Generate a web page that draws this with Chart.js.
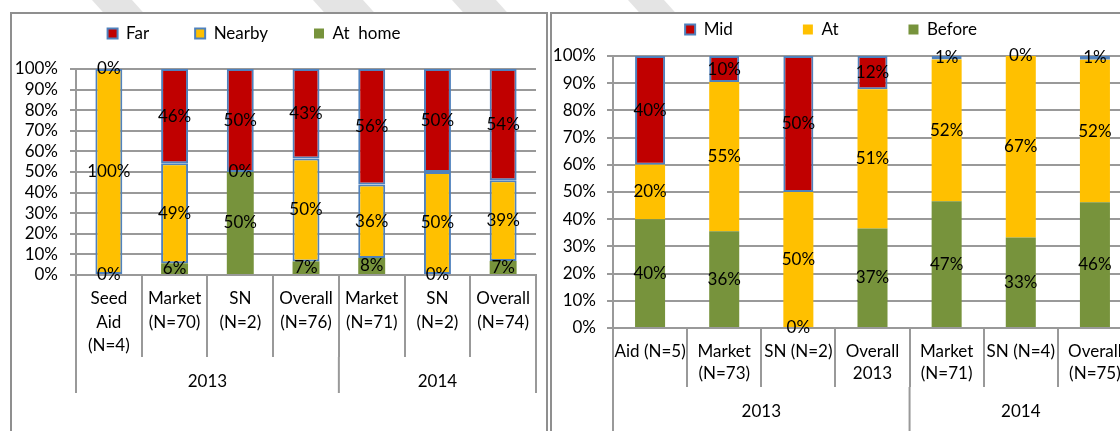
<!DOCTYPE html>
<html>
<head>
<meta charset="utf-8">
<script src="https://cdn.jsdelivr.net/npm/chart.js@4.4.1/dist/chart.umd.min.js"></script>
<style>
  html, body { margin: 0; padding: 0; }
  body { width: 1120px; height: 431px; overflow: hidden; position: relative; background: #fff; }
  canvas { position: absolute; }
  .frame { position: absolute; border: 2px solid #8f8f8f; border-bottom: none; box-sizing: border-box; }
  .stripe { position: absolute; top: 0; height: 12px; background: #e4e4e4; transform: skewX(42deg); transform-origin: top left; }
</style>
</head>
<body>
<div class="stripe" style="left:92px;width:40px"></div>
<div class="stripe" style="left:313px;width:50px"></div>
<div class="stripe" style="left:452px;width:44px"></div>
<div class="stripe" style="left:628px;width:36px"></div>
<div class="frame" style="left:10px;top:12px;width:538px;height:430px"></div>
<div class="frame" style="left:550px;top:12px;width:600px;height:430px;border-right:none"></div>
<canvas id="leftChart" width="574" height="452" style="left:-28px;top:-21px"></canvas>
<canvas id="rightChart" width="602" height="480" style="left:530px;top:-49px"></canvas>
<script>
// Left chart data (bottom to top: At home, Nearby, Far)
const leftCategories = [
  ['Seed', 'Aid', '(N=4)'], ['Market', '(N=70)'], ['SN', '(N=2)'], ['Overall', '(N=76)'],
  ['Market', '(N=71)'], ['SN', '(N=2)'], ['Overall', '(N=74)']
];
const leftHome = [0, 5.7, 50, 6.6, 8.3, 0, 6.8];
const leftNearby = [100, 48.6, 0, 50, 35.6, 50, 39.2];
const leftFar = [0, 45.7, 50, 43.4, 56.1, 50, 54.0];

// Right chart data (bottom to top: Before, At, Mid)
const rightCategories = [
  'Aid (N=5)', ['Market', '(N=73)'], 'SN (N=2)', ['Overall', '2013'],
  ['Market', '(N=71)'], 'SN (N=4)', ['Overall', '(N=75)']
];
const rightBefore = [40, 35.6, 0, 36.6, 46.6, 33.3, 46.2];
const rightAt = [20, 54.8, 50, 51.2, 52.1, 66.7, 52.4];
const rightMid = [40, 9.6, 50, 12.2, 1.3, 0, 1.4];

const yearLabels = ['2013', '2014'];
const yearSizes = [4, 3];
const yTicks = [0, 10, 20, 30, 40, 50, 60, 70, 80, 90, 100];

const RED = '#C00000';
const YELLOW = '#FFC000';
const GREEN = '#77933C';
const BLUE = '#4F81BD';
const GRID = '#999999';
const FONT = 'Lato';
const FSIZE = 17;

Chart.defaults.font.family = FONT;
Chart.defaults.font.size = FSIZE;
Chart.defaults.color = '#000';

// percent labels in the middle of each bar piece
const barLabels = {
  id: 'barLabels',
  afterDatasetsDraw(chart) {
    const ctx = chart.ctx;
    ctx.save();
    ctx.font = FSIZE + 'px ' + FONT;
    ctx.fillStyle = '#000';
    ctx.textAlign = 'center';
    ctx.textBaseline = 'middle';
    chart.data.datasets.forEach((ds, i) => {
      chart.getDatasetMeta(i).data.forEach((bar, j) => {
        const p = bar.getProps(['x', 'y', 'base'], true);
        ctx.fillText(Math.round(ds.data[j]) + '%', p.x, (p.y + p.base) / 2);
      });
    });
    ctx.restore();
  }
};

// second row of the category axis: years
const yearAxis = {
  id: 'yearAxis',
  afterDraw(chart, args, opts) {
    const xs = chart.scales.x;
    const step = xs.getPixelForValue(1) - xs.getPixelForValue(0);
    const edge = i => xs.getPixelForValue(0) - step / 2 + i * step;
    const base = chart.chartArea.bottom;
    const ctx = chart.ctx;
    ctx.save();
    ctx.strokeStyle = GRID;
    ctx.lineWidth = 2;
    ctx.font = FSIZE + 'px ' + FONT;
    ctx.fillStyle = '#000';
    ctx.textAlign = 'center';
    ctx.textBaseline = 'middle';
    let start = 0;
    const drawEdge = i => {
      ctx.beginPath();
      ctx.moveTo(edge(i), base + opts.top);
      ctx.lineTo(edge(i), base + opts.bottom);
      ctx.stroke();
    };
    yearLabels.forEach((lab, k) => {
      drawEdge(start);
      const end = start + yearSizes[k];
      ctx.fillText(lab, (edge(start) + edge(end)) / 2, base + opts.labelY);
      start = end;
    });
    drawEdge(start);
    ctx.restore();
  }
};

function makeChart(id, cfg) {
  return new Chart(document.getElementById(id), {
    type: 'bar',
    data: {
      labels: cfg.labels,
      datasets: cfg.datasets
    },
    options: {
      responsive: false,
      animation: false,
      devicePixelRatio: 1,
      layout: { padding: { left: 0, right: cfg.padRight, top: 0, bottom: 0 } },
      datasets: { bar: { categoryPercentage: 1, barPercentage: cfg.barPct } },
      plugins: {
        legend: {
          position: 'top',
          reverse: true,
          labels: {
            boxWidth: 10,
            boxHeight: 10,
            padding: cfg.legendPad,
            color: '#000',
            font: { size: FSIZE }
          }
        },
        tooltip: { enabled: false },
        yearAxis: { top: cfg.yearTop, bottom: cfg.yearBottom, labelY: cfg.yearLabelY }
      },
      scales: {
        x: {
          stacked: true,
          grid: {
            offset: true,
            drawOnChartArea: false,
            drawTicks: true,
            tickLength: cfg.catTick,
            color: GRID,
            lineWidth: 2
          },
          border: { display: true, color: GRID, width: 2 },
          ticks: {
            autoSkip: false,
            maxRotation: 0,
            padding: cfg.catPad,
            color: '#000',
            font: { size: FSIZE, lineHeight: cfg.catLine }
          },
          afterFit(scale) { scale.height = cfg.xHeight; }
        },
        // empty band between the legend and the plot
        gap: {
          type: 'category',
          position: 'top',
          display: true,
          grid: { display: false },
          border: { display: false },
          ticks: { display: false },
          afterFit(scale) { scale.height = cfg.legendGap; }
        },
        y: {
          stacked: true,
          min: 0,
          max: 100,
          afterBuildTicks(scale) { scale.ticks = yTicks.map(v => ({ value: v })); },
          grid: { color: GRID, lineWidth: 2, drawTicks: true, tickLength: 6 },
          border: { display: true, color: GRID, width: 2 },
          ticks: {
            autoSkip: false,
            padding: cfg.yPad,
            color: '#000',
            font: { size: FSIZE },
            callback: v => v + '%'
          },
          afterFit(scale) { scale.width = cfg.yWidth; }
        }
      }
    },
    plugins: [barLabels, yearAxis]
  });
}

makeChart('leftChart', {
  labels: leftCategories,
  datasets: [
    { label: 'At  home', data: leftHome, backgroundColor: GREEN, borderWidth: 0 },
    { label: 'Nearby', data: leftNearby, backgroundColor: YELLOW, borderColor: BLUE, borderWidth: 2, borderSkipped: false },
    { label: 'Far', data: leftFar, backgroundColor: RED, borderColor: BLUE, borderWidth: 2, borderSkipped: false }
  ],
  padRight: 10,
  barPct: 0.41,
  legendPad: 46,
  legendGap: 17,
  catTick: 82,
  catPad: -70,
  catLine: 23.5 / FSIZE,
  xHeight: 156,
  yWidth: 104,
  yPad: 12,
  yearTop: 82,
  yearBottom: 118,
  yearLabelY: 107
});

makeChart('rightChart', {
  labels: rightCategories,
  datasets: [
    { label: 'Before', data: rightBefore, backgroundColor: GREEN, borderWidth: 0 },
    { label: 'At', data: rightAt, backgroundColor: YELLOW, borderWidth: 0 },
    { label: 'Mid', data: rightMid, backgroundColor: RED, borderColor: BLUE, borderWidth: 2, borderSkipped: false }
  ],
  padRight: 0,
  barPct: 0.405,
  legendPad: 70,
  legendGap: 8,
  catTick: 59,
  catPad: -46,
  catLine: 21.5 / FSIZE,
  xHeight: 103,
  yWidth: 83,
  yPad: 11,
  yearTop: 59,
  yearBottom: 120,
  yearLabelY: 84
});
</script>
</body>
</html>
